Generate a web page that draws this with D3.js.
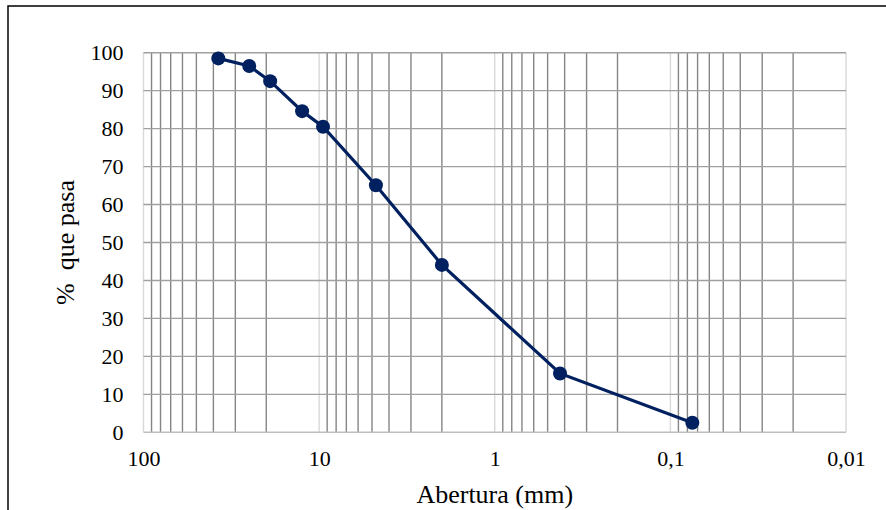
<!DOCTYPE html>
<html>
<head>
<meta charset="utf-8">
<script src="https://cdn.jsdelivr.net/npm/d3@7/dist/d3.min.js"></script>
<style>
  html, body { margin: 0; padding: 0; background: #fff; }
  svg { display: block; }
  text { font-family: "Liberation Serif", "Times New Roman", Times, serif; fill: #000; }
</style>
</head>
<body>
<svg id="chart" width="886" height="510"></svg>
<script>
// Sieve openings (mm) and cumulative percentage passing
const aperturas = [37.5, 25, 19, 12.5, 9.5, 4.75, 2.0, 0.425, 0.075];
const pasa = [98.5, 96.5, 92.5, 84.6, 80.5, 65.1, 44.1, 15.5, 2.5];

const xTickValues = [100, 10, 1, 0.1, 0.01];
const xTickLabels = ["100", "10", "1", "0,1", "0,01"];
const yTickValues = [0, 10, 20, 30, 40, 50, 60, 70, 80, 90, 100];

const xTitle = "Abertura (mm)";
const yTitle = "%  que pasa";

const FONT = '"Liberation Serif", "Times New Roman", Times, serif';

const svg = d3.select("#chart");
const W = 886, H = 510;
const margin = { left: 143.5, right: 886 - 846, top: 52.7, bottom: 510 - 432.3 };

// outer frame of the chart object
svg.append("rect")
  .attr("x", 8).attr("y", 6)
  .attr("width", 900).attr("height", 600)
  .attr("fill", "none").attr("stroke", "#000").attr("stroke-width", 1.5);

const x = d3.scaleLog().domain([100, 0.01]).range([margin.left, W - margin.right]);
const y = d3.scaleLinear().domain([0, 100]).range([H - margin.bottom, margin.top]);

const g = svg.append("g");

// minor vertical grid: 2..9 in each decade
const minor = [];
[0.01, 0.1, 1, 10].forEach(base => {
  for (let k = 2; k <= 9; k++) minor.push(base * k);
});
g.append("g").selectAll("line").data(minor).join("line")
  .attr("x1", d => x(d)).attr("x2", d => x(d))
  .attr("y1", y(0)).attr("y2", y(100))
  .attr("stroke", "#858585").attr("stroke-width", 1.4);

// decade lines
g.append("g").selectAll("line").data(xTickValues).join("line")
  .attr("x1", d => x(d)).attr("x2", d => x(d))
  .attr("y1", y(0)).attr("y2", y(100))
  .attr("stroke", "#d9d9d9").attr("stroke-width", 1.4);

// horizontal grid
g.append("g").selectAll("line").data(yTickValues.filter(v => v > 0)).join("line")
  .attr("x1", x(100)).attr("x2", x(0.01))
  .attr("y1", d => y(d)).attr("y2", d => y(d))
  .attr("stroke", "#a0a0a0").attr("stroke-width", 1.4);

// bottom axis line
g.append("line")
  .attr("x1", x(100)).attr("x2", x(0.01))
  .attr("y1", y(0)).attr("y2", y(0))
  .attr("stroke", "#bfbfbf").attr("stroke-width", 1.4);

// y tick labels
const yAxis = d3.axisLeft(y).tickValues(yTickValues).tickSize(0).tickPadding(20).tickFormat(d3.format("d"));
const ya = svg.append("g").attr("transform", `translate(${x(100)},0)`).call(yAxis);
ya.select(".domain").remove();
ya.attr("font-family", FONT);
ya.selectAll("text").style("font-size", "22px").style("font-family", FONT).attr("fill", "#000");

// x tick labels
const xAxis = d3.axisBottom(x).tickValues(xTickValues).tickSize(0).tickPadding(18)
  .tickFormat((d, i) => xTickLabels[i]);
const xa = svg.append("g").attr("transform", `translate(0,${y(0)})`).call(xAxis);
xa.select(".domain").remove();
xa.attr("font-family", FONT);
xa.selectAll("text").style("font-size", "22px").style("font-family", FONT).attr("fill", "#000");

// axis titles
svg.append("text")
  .attr("x", (x(100) + x(0.01)) / 2).attr("y", 503)
  .attr("text-anchor", "middle")
  .style("font-size", "26px")
  .text(xTitle);

svg.append("text")
  .attr("transform", `translate(74,${(y(0) + y(100)) / 2}) rotate(-90)`)
  .attr("text-anchor", "middle")
  .style("font-size", "26px")
  .style("white-space", "pre")
  .text(yTitle);

// gradation curve
const pts = aperturas.map((a, i) => [a, pasa[i]]);
svg.append("path")
  .datum(pts)
  .attr("fill", "none")
  .attr("stroke", "#002060")
  .attr("stroke-width", 3.2)
  .attr("d", d3.line().x(d => x(d[0])).y(d => y(d[1])));

svg.append("g").selectAll("circle").data(pts).join("circle")
  .attr("cx", d => x(d[0])).attr("cy", d => y(d[1]))
  .attr("r", 7)
  .attr("fill", "#002060");
</script>
</body>
</html>
